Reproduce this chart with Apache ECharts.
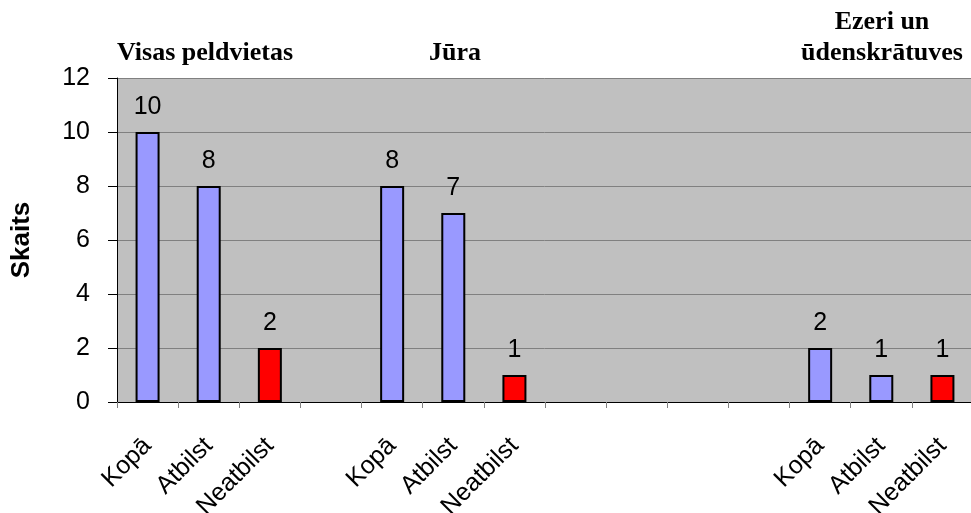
<!DOCTYPE html>
<html>
<head>
<meta charset="utf-8">
<script src="https://cdn.jsdelivr.net/npm/echarts@6/dist/echarts.min.js"></script>
<style>
    html, body { margin: 0; padding: 0; background: #fff; }
    #chart { width: 971px; height: 513px; }
</style>
</head>
<body>
<div id="chart"></div>
<script>
// kategorijas (tukšās vietas starp grupām)
var categories = ['Kopā', 'Atbilst', 'Neatbilst', '', 'Kopā', 'Atbilst', 'Neatbilst', '', '', '', '', 'Kopā', 'Atbilst', 'Neatbilst'];
// vērtības, '-' = nav stabiņa
var values = [10, 8, 2, '-', 8, 7, 1, '-', '-', '-', '-', 2, 1, 1];
var isRed = [false, false, true, false, false, false, true, false, false, false, false, false, false, true];
var groupTitles = ['Visas peldvietas', 'Jūra', 'Ezeri un\nūdenskrātuves'];
var yTicks = [0, 2, 4, 6, 8, 10, 12];

var chart = echarts.init(document.getElementById('chart'));

var barData = values.map(function(v, i) {
    return {
        value: v,
        itemStyle: { color: isRed[i] ? '#FF0000' : '#9999FF' }
    };
});

var titleFont = { fontFamily: '"Liberation Serif", "Times New Roman", serif', fontWeight: 'bold', fontSize: 26, fill: '#000', align: 'center', verticalAlign: 'middle' };

chart.setOption({
    animation: false,
    grid: { left: 117, top: 78, width: 856, bottom: 111, containLabel: false, outerBoundsMode: 'none' },
    xAxis: {
        type: 'category',
        data: categories,
        axisLine: { lineStyle: { color: '#000', width: 1 } },
        axisTick: { show: true, interval: 0, length: 6, lineStyle: { color: '#808080' } },
        axisLabel: {
            interval: 0,
            rotate: 45,
            margin: 40,
            fontFamily: '"Liberation Sans", Arial, sans-serif',
            fontSize: 25,
            color: '#000'
        }
    },
    yAxis: {
        type: 'value',
        min: yTicks[0],
        max: yTicks[yTicks.length - 1],
        interval: 2,
        name: 'Skaits',
        nameLocation: 'middle',
        nameGap: 82,
        nameTextStyle: { fontFamily: '"Liberation Sans", Arial, sans-serif', fontWeight: 'bold', fontSize: 26, color: '#000' },
        axisLine: { show: true, lineStyle: { color: '#000', width: 1 } },
        axisTick: { show: true, length: 9, lineStyle: { color: '#000' } },
        axisLabel: { margin: 27, fontFamily: '"Liberation Sans", Arial, sans-serif', fontSize: 25, color: '#000' },
        splitLine: { lineStyle: { color: '#808080', width: 1 } },
        splitArea: { show: true, areaStyle: { color: ['#C0C0C0', '#C0C0C0'] } }
    },
    series: [{
        type: 'bar',
        data: barData,
        barWidth: 24,
        itemStyle: { borderColor: '#000', borderWidth: 2 },
        label: {
            show: true,
            position: 'top',
            distance: 12,
            fontFamily: '"Liberation Sans", Arial, sans-serif',
            fontSize: 25,
            color: '#000'
        }
    }],
    graphic: [
        { type: 'text', x: 205, y: 53, style: Object.assign({ text: groupTitles[0] }, titleFont) },
        { type: 'text', x: 455, y: 53, style: Object.assign({ text: groupTitles[1] }, titleFont) },
        { type: 'text', x: 882, y: 38, style: Object.assign({ text: groupTitles[2], lineHeight: 31 }, titleFont) }
    ]
});
</script>
</body>
</html>
